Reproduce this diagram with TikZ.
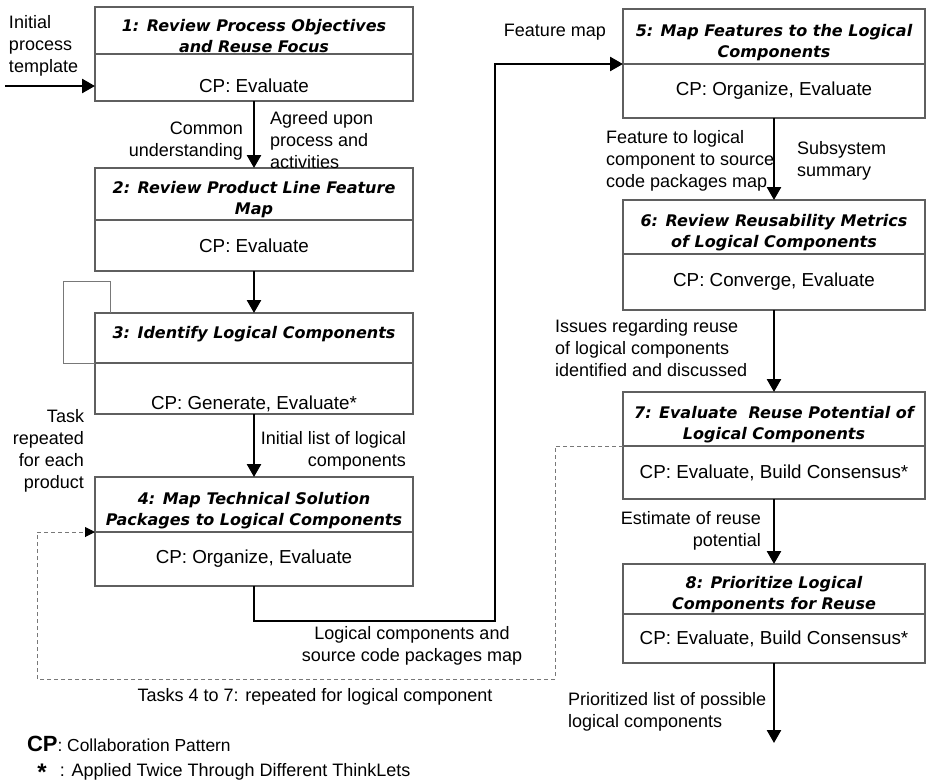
\documentclass[tikz,border=0pt]{standalone}
\usepackage{fontspec}
\setmainfont{Liberation Sans}
\newfontfamily\headfont{DejaVu Sans}
\usepackage{tikz}
\usetikzlibrary{arrows.meta,positioning,calc}
\definecolor{boxline}{RGB}{95,95,95}
\definecolor{loopline}{RGB}{120,120,120}
\definecolor{repeatline}{RGB}{120,120,120}
\newcommand{\headgap}{\rule{0pt}{12pt}}

\begin{document}
\begin{tikzpicture}[x=0.5pt,y=-0.5pt,>={Triangle[length=6.5pt,width=7pt]},
    every node/.style={inner sep=0pt,outer sep=0pt},
    taskhead/.style={draw=boxline,line width=0.6pt,align=center,
        font=\headfont\bfseries\itshape\fontsize{8}{10.5}\selectfont},
    taskcp/.style={draw=boxline,line width=0.6pt,align=center,
        font=\fontsize{9.4}{11}\selectfont},
    leftcol/.style={minimum width=159pt},
    rightcol/.style={minimum width=151pt},
    note/.style={font=\fontsize{9}{11}\selectfont},
    flow/.style={->,line width=1.3pt}]

    \useasboundingbox (0,0) rectangle (927,783);

    % Left column: tasks 1 to 4
    \node[taskhead,leftcol,minimum height=23.5pt] (h1) at (254,30.5) {\headgap 1: Review Process Objectives\\and Reuse Focus};
    \node[taskcp,leftcol,minimum height=23.5pt,text height=15pt,below=0pt of h1] (c1) {CP: Evaluate};

    \node[taskhead,leftcol,minimum height=26pt] (h2) at (254,194) {\headgap 2: Review Product Line Feature\\Map};
    \node[taskcp,leftcol,minimum height=25.5pt,below=0pt of h2] (c2) {CP: Evaluate};

    \node[taskhead,leftcol,minimum height=25pt,text depth=12pt] (h3) at (254,338) {\headgap 3: Identify Logical Components};
    \node[taskcp,leftcol,minimum height=25.5pt,text height=22.5pt,below=0pt of h3] (c3) {CP: Generate, Evaluate*};

    \node[taskhead,leftcol,minimum height=27.5pt] (h4) at (254,504.5) {\headgap 4: Map Technical Solution\\Packages to Logical Components};
    \node[taskcp,leftcol,minimum height=27pt,below=0pt of h4] (c4) {CP: Organize, Evaluate};

    % Right column: tasks 5 to 8
    \node[taskhead,rightcol,minimum height=27.5pt] (h5) at (774,36.5) {\headgap 5: Map Features to the Logical\\Components};
    \node[taskcp,rightcol,minimum height=27pt,below=0pt of h5] (c5) {CP: Organize, Evaluate};

    \node[taskhead,rightcol,minimum height=27pt] (h6) at (774,227) {\headgap 6: Review Reusability Metrics\\of Logical Components};
    \node[taskcp,rightcol,minimum height=28pt,below=0pt of h6] (c6) {CP: Converge, Evaluate};

    \node[taskhead,rightcol,minimum height=27pt] (h7) at (774,419) {\headgap 7: Evaluate~ Reuse Potential of\\Logical Components};
    \node[taskcp,rightcol,minimum height=26.5pt,below=0pt of h7] (c7) {CP: Evaluate, Build Consensus*};

    \node[taskhead,rightcol,minimum height=25pt] (h8) at (774,589) {\headgap 8: Prioritize Logical\\Components for Reuse};
    \node[taskcp,rightcol,minimum height=24.5pt,below=0pt of h8] (c8) {CP: Evaluate, Build Consensus*};

    % Flow between tasks
    \coordinate (start) at (5,86);
    \coordinate (finish) at (774,743);
    \draw[flow] (start) -- (start -| c1.west);
    \draw[flow] (c1.south) -- (h2.north);
    \draw[flow] (c2.south) -- (h3.north);
    \draw[flow] (c3.south) -- (h4.north);
    \draw[flow] (c4.south) -- ++(0,35) -| ($(h5.south west)+(-128,0)$) -- (h5.south west);
    \draw[flow] (c5.south) -- (h6.north);
    \draw[flow] (c6.south) -- (h7.north);
    \draw[flow] (c7.south) -- (h8.north);
    \draw[flow] (c8.south) -- (finish);

    % Repetition loops
    \draw[loopline,line width=0.5pt] ($(h3.north west)+(15,0)$) -- ++(0,-32) -| ($(c3.north west)+(-32,0)$) -- (c3.north west);
    \draw[repeatline,line width=0.5pt,dash pattern=on 2pt off 1.5pt,-{Triangle[length=5pt,width=5pt,black]}]
        (h7.south west) -- ++(-68,0) -- ++(0,233) -| ($(h4.south west)+(-58,0)$) -- (h4.south west);

    % Labels
    \node[note,align=left,anchor=west] (tpl) at (9,45.5) {Initial\\process\\template};
    \node[note,align=right,anchor=east] (common) at (243,141) {Common\\understanding};
    \node[note,align=left,anchor=west] (agreed) at (270,140) {Agreed upon\\process and\\activities};
    \node[note,align=right,anchor=east] (eachprod) at (84,451) {Task\\repeated\\for each\\product};
    \node[note,align=right,anchor=east] (initlist) at (406,451) {Initial list of logical\\components};
    \node[note,align=center] (lcmap) at (412,646) {Logical components and\\source code packages map};
    \node[note] (repeat) at (315,697) {Tasks 4 to 7: repeated for logical component};
    \node[note] (fmap) at (555,32) {Feature map};
    \node[note,align=left,anchor=west] (f2l) at (606,161) {Feature to logical\\component to source\\code packages map};
    \node[note,align=left,anchor=west] (subsys) at (797,161) {Subsystem\\summary};
    \node[note,align=left,anchor=west] (issues) at (555,348) {Issues regarding reuse\\of logical components\\identified and discussed};
    \node[note,align=right,anchor=east] (estimate) at (761,531) {Estimate of reuse\\potential};
    \node[note,align=left,anchor=west] (priolist) at (568,712) {Prioritized list of possible\\logical components};

    % Legend
    \node[note,font=\fontsize{8.7}{10}\selectfont,anchor=west] (cpkey) at (27,744) {{\fontsize{11}{12}\selectfont\bfseries CP}: Collaboration Pattern};
    \node[font=\fontsize{12}{12}\selectfont\bfseries] (starmark) at (42,772) {*};
    \node[note,anchor=west] (starkey) at (60,772) {: Applied Twice Through Different ThinkLets};

\end{tikzpicture}
\end{document}
